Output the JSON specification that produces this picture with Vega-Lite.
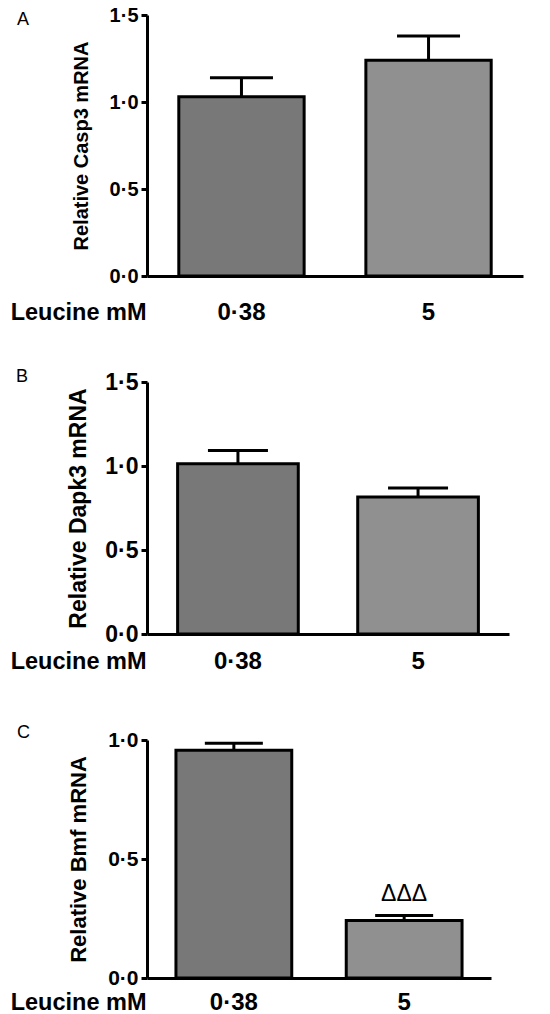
{
  "$schema": "https://vega.github.io/schema/vega-lite/v6.json",
  "background": "white",
  "padding": {"left": 10, "top": 5, "right": 5, "bottom": 0},
  "bounds": "flush",
  "spacing": 106,
  "config": {
    "view": {"stroke": null},
    "font": "Liberation Sans",
    "axis": {"grid": false, "domainColor": "black", "domainWidth": 3, "tickColor": "black", "tickWidth": 3, "labelColor": "black", "titleColor": "black", "labelFont": "Liberation Sans", "titleFont": "Liberation Sans", "labelFontWeight": "bold", "titleFontWeight": "bold"},
    "title": {"font": "Liberation Sans", "fontWeight": "normal", "fontSize": 18, "color": "black", "anchor": "start", "frame": "group", "offset": 0, "baseline": "bottom"},
    "bar": {"stroke": "black", "strokeWidth": 3}
  },
  "vconcat": [
    {
      "width": 376, "height": 261,
      "title": {"text": "A", "dx": -130, "dy": 28},
      "data": {"values": [
        {"leucine": "0.38", "mean": 1.03, "upper": 1.14},
        {"leucine": "5", "mean": 1.24, "upper": 1.38}
      ]},
      "encoding": {
        "x": {"field": "leucine", "type": "nominal", "sort": null, "scale": {"paddingInner": 0.33, "paddingOuter": 0.17},
          "axis": {"title": "Leucine mM", "labelAngle": 0, "ticks": false, "tickSize": 0, "labelFontSize": 24, "labelPadding": 36, "labelBaseline": "middle", "labelExpr": "replace(datum.value, '.', '·')", "titleFontSize": 23.5, "titleAngle": 0, "titleX": -1, "titleY": 36, "titleAlign": "right", "titleBaseline": "middle"}}
      },
      "layer": [
        {"mark": {"type": "bar"},
         "encoding": {
           "y": {"field": "mean", "type": "quantitative", "scale": {"domain": [0, 1.5], "nice": false},
             "axis": {"title": "Relative Casp3 mRNA", "values": [0, 0.5, 1, 1.5], "labelExpr": "replace(format(datum.value, '.1f'), '.', '·')", "labelFontSize": 20, "tickSize": 6, "labelPadding": 3, "titleFontSize": 20, "titlePadding": 18}},
           "color": {"field": "leucine", "type": "nominal", "scale": {"domain": ["0.38", "5"], "range": ["#787878", "#909090"]}, "legend": null}
         }},
        {"mark": {"type": "rule", "strokeWidth": 3, "color": "black"},
         "encoding": {"y": {"field": "mean", "type": "quantitative"}, "y2": {"field": "upper"}}},
        {"mark": {"type": "tick", "thickness": 3, "size": 63, "color": "black", "opacity": 1},
         "encoding": {"y": {"field": "upper", "type": "quantitative"}}}
      ]
    },
    {
      "width": 362, "height": 252,
      "title": {"text": "B", "dx": -131, "dy": 19},
      "data": {"values": [
        {"leucine": "0.38", "mean": 1.014, "upper": 1.093},
        {"leucine": "5", "mean": 0.815, "upper": 0.869}
      ]},
      "encoding": {
        "x": {"field": "leucine", "type": "nominal", "sort": null, "scale": {"paddingInner": 0.33, "paddingOuter": 0.17},
          "axis": {"title": "Leucine mM", "labelAngle": 0, "ticks": false, "tickSize": 0, "labelFontSize": 24, "labelPadding": 27, "labelBaseline": "middle", "labelExpr": "replace(datum.value, '.', '·')", "titleFontSize": 23.5, "titleAngle": 0, "titleX": -1, "titleY": 27, "titleAlign": "right", "titleBaseline": "middle"}}
      },
      "layer": [
        {"mark": {"type": "bar"},
         "encoding": {
           "y": {"field": "mean", "type": "quantitative", "scale": {"domain": [0, 1.5], "nice": false},
             "axis": {"title": "Relative Dapk3 mRNA", "values": [0, 0.5, 1, 1.5], "labelExpr": "replace(format(datum.value, '.1f'), '.', '·')", "labelFontSize": 23, "tickSize": 6, "labelPadding": 3, "titleFontSize": 23, "titlePadding": 14}},
           "color": {"field": "leucine", "type": "nominal", "scale": {"domain": ["0.38", "5"], "range": ["#787878", "#909090"]}, "legend": null}
         }},
        {"mark": {"type": "rule", "strokeWidth": 3, "color": "black"},
         "encoding": {"y": {"field": "mean", "type": "quantitative"}, "y2": {"field": "upper"}}},
        {"mark": {"type": "tick", "thickness": 3, "size": 60, "color": "black", "opacity": 1},
         "encoding": {"y": {"field": "upper", "type": "quantitative"}}}
      ]
    },
    {
      "width": 344, "height": 238,
      "title": {"text": "C", "dx": -130, "dy": 17},
      "data": {"values": [
        {"leucine": "0.38", "mean": 0.957, "upper": 0.986, "sig": ""},
        {"leucine": "5", "mean": 0.242, "upper": 0.263, "sig": "ΔΔΔ"}
      ]},
      "encoding": {
        "x": {"field": "leucine", "type": "nominal", "sort": null, "scale": {"paddingInner": 0.32, "paddingOuter": 0.17},
          "axis": {"title": "Leucine mM", "labelAngle": 0, "ticks": false, "tickSize": 0, "labelFontSize": 24, "labelPadding": 24, "labelBaseline": "middle", "labelExpr": "replace(datum.value, '.', '·')", "titleFontSize": 23.5, "titleAngle": 0, "titleX": -1, "titleY": 24, "titleAlign": "right", "titleBaseline": "middle"}}
      },
      "layer": [
        {"mark": {"type": "bar"},
         "encoding": {
           "y": {"field": "mean", "type": "quantitative", "scale": {"domain": [0, 1], "nice": false},
             "axis": {"title": "Relative Bmf mRNA", "values": [0, 0.5, 1], "labelExpr": "replace(format(datum.value, '.1f'), '.', '·')", "labelFontSize": 21, "tickSize": 6, "labelPadding": 3, "titleFontSize": 22, "titlePadding": 17}},
           "color": {"field": "leucine", "type": "nominal", "scale": {"domain": ["0.38", "5"], "range": ["#787878", "#909090"]}, "legend": null}
         }},
        {"mark": {"type": "rule", "strokeWidth": 3, "color": "black"},
         "encoding": {"y": {"field": "mean", "type": "quantitative"}, "y2": {"field": "upper"}}},
        {"mark": {"type": "tick", "thickness": 3, "size": 58, "color": "black", "opacity": 1},
         "encoding": {"y": {"field": "upper", "type": "quantitative"}}},
        {"transform": [{"filter": "datum.sig != ''"}],
         "mark": {"type": "text", "fontSize": 23, "dy": -21, "baseline": "middle", "color": "black"},
         "encoding": {"y": {"field": "upper", "type": "quantitative"}, "text": {"field": "sig"}}}
      ]
    }
  ]
}
